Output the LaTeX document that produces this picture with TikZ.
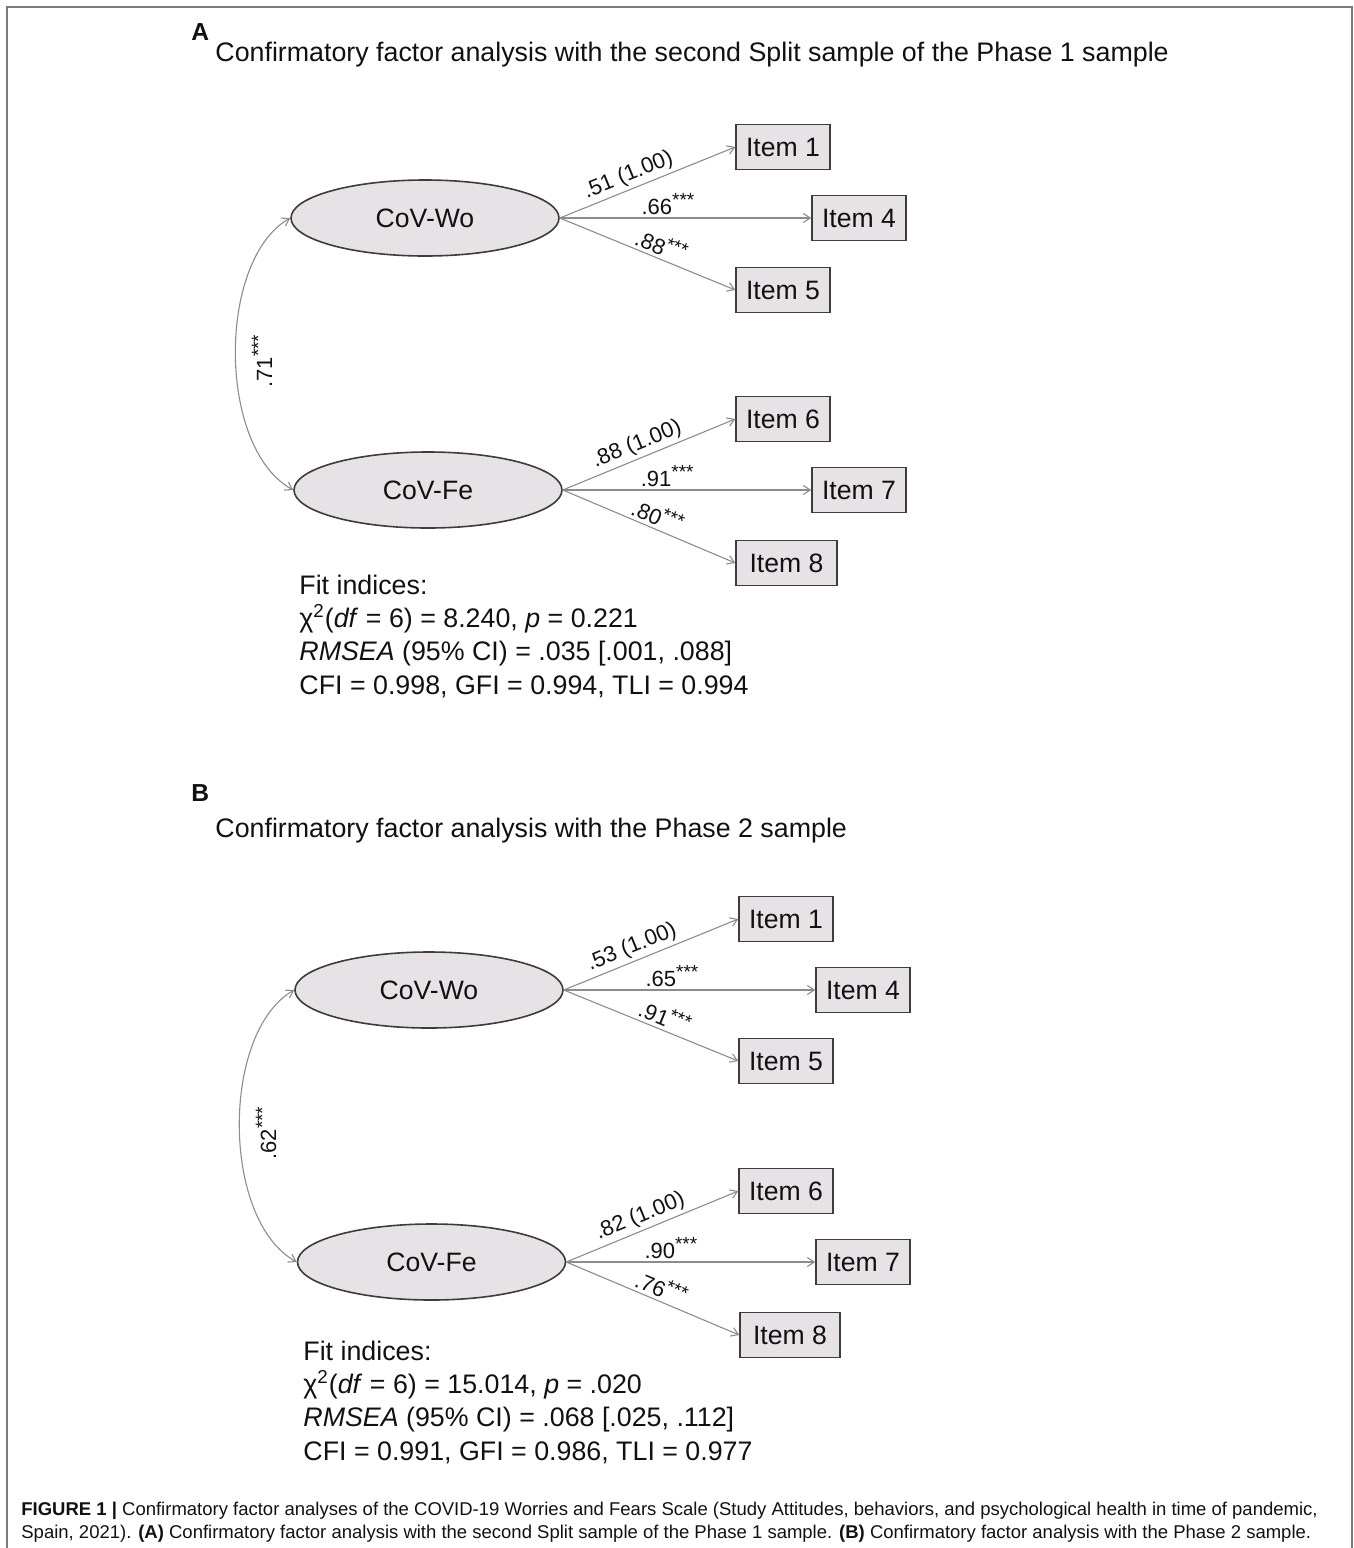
\documentclass[tikz,border=0pt]{standalone}
\usepackage{fontspec}
\setmainfont{Liberation Sans}
\usetikzlibrary{shapes.geometric,arrows.meta}
\definecolor{fillg}{HTML}{E6E2E5}
\definecolor{lineg}{HTML}{8C8C8C}
\definecolor{bord}{HTML}{3C3C3C}
\definecolor{frameg}{HTML}{7A7A7A}
\definecolor{txt}{HTML}{111111}
\newcommand\mystars{\raisebox{0.33em}{\fontsize{9.5}{10}\selectfont ***}}
\begin{document}
\begin{tikzpicture}[x=0.5pt,y=-0.5pt,
  every node/.style={text=txt},
  latent/.style={ellipse,draw=bord,line width=0.8pt,fill=fillg,minimum width=134pt,minimum height=38pt,inner sep=0pt,font=\fontsize{13.3}{15}\selectfont},
  obs/.style={rectangle,draw=bord,line width=0.7pt,fill=fillg,minimum width=47pt,minimum height=22.5pt,inner sep=0pt,font=\fontsize{13.3}{15}\selectfont},
  load/.style={draw=lineg,line width=0.55pt,-{Straight Barb[length=3.5pt,width=4.5pt]}},
  corr/.style={draw=lineg,line width=0.55pt,{Straight Barb[length=3.5pt,width=4.5pt]}-{Straight Barb[length=3.5pt,width=4.5pt]}},
  lbl/.style={font=\fontsize{11}{13}\selectfont,sloped,above,inner sep=1.5pt},
  fitbox/.style={anchor=base west,align=left,font=\fontsize{13.4}{16.6}\selectfont,inner sep=0pt},
  ttl/.style={anchor=base west,inner sep=0pt,font=\fontsize{13.4}{16}\selectfont},
  letter/.style={anchor=base west,inner sep=0pt,font=\fontsize{12.3}{14}\selectfont\bfseries},
]
\useasboundingbox (0,0) rectangle (1354,1548);
\draw[frameg,line width=1pt] (7,1548) -- (7,7) -- (1352,7) -- (1352,1548);

% ---------- Panel A ----------
\node[letter] (la) at (191,40) {A};
\node[ttl] (ta) at (215,61) {Confirmatory factor analysis with the second Split sample of the Phase 1 sample};

\node[latent] (woA) at (425,218) {CoV-Wo};
\node[latent] (feA) at (428,490) {CoV-Fe};
\node[obs] (i1A) at (783,147) {Item 1};
\node[obs] (i4A) at (859,218) {Item 4};
\node[obs] (i5A) at (783,290) {Item 5};
\node[obs] (i6A) at (783,419) {Item 6};
\node[obs] (i7A) at (859,490) {Item 7};
\node[obs,minimum width=50.5pt] (i8A) at (786.5,563) {Item 8};

\draw[load] (woA.east) -- node[lbl,pos=0.42] (a1) {.51 (1.00)} (i1A.west);
\draw[load] (woA.east) -- node[lbl,pos=0.43] (a4) {.66\mystars} (i4A.west);
\draw[load] (woA.east) -- node[lbl,pos=0.55] (a5) {.88\mystars} (i5A.west);
\draw[load] (feA.east) -- node[lbl,pos=0.46] (a6) {.88 (1.00)} (i6A.west);
\draw[load] (feA.east) -- node[lbl,pos=0.42] (a7) {.91\mystars} (i7A.west);
\draw[load] (feA.east) -- node[lbl,pos=0.52] (a8) {.80\mystars} (i8A.west);

\draw[corr] (woA.west) .. controls (217,260) and (217,448) .. (feA.west);
\node[rotate=90,font=\fontsize{11}{13}\selectfont,inner sep=0pt] (ca) at (262,361) {.71\mystars};

\node[fitbox] (fa) at (299,694) {Fit indices:\\
χ\textsuperscript{2}(\textit{df} = 6) = 8.240, \textit{p} = 0.221\\
\textit{RMSEA} (95\% CI) = .035 [.001, .088]\\
CFI = 0.998, GFI = 0.994, TLI = 0.994};

% ---------- Panel B ----------
\node[letter] (lb) at (191,801) {B};
\node[ttl] (tb) at (215,837) {Confirmatory factor analysis with the Phase 2 sample};

\node[latent] (woB) at (429,990) {CoV-Wo};
\node[latent] (feB) at (431.5,1262) {CoV-Fe};
\node[obs] (i1B) at (786,919) {Item 1};
\node[obs] (i4B) at (863,990) {Item 4};
\node[obs] (i5B) at (786,1061) {Item 5};
\node[obs] (i6B) at (786,1191) {Item 6};
\node[obs] (i7B) at (863,1262) {Item 7};
\node[obs,minimum width=50pt] (i8B) at (790,1335) {Item 8};

\draw[load] (woB.east) -- node[lbl,pos=0.42] (b1) {.53 (1.00)} (i1B.west);
\draw[load] (woB.east) -- node[lbl,pos=0.43] (b4) {.65\mystars} (i4B.west);
\draw[load] (woB.east) -- node[lbl,pos=0.55] (b5) {.91\mystars} (i5B.west);
\draw[load] (feB.east) -- node[lbl,pos=0.46] (b6) {.82 (1.00)} (i6B.west);
\draw[load] (feB.east) -- node[lbl,pos=0.42] (b7) {.90\mystars} (i7B.west);
\draw[load] (feB.east) -- node[lbl,pos=0.52] (b8) {.76\mystars} (i8B.west);

\draw[corr] (woB.west) .. controls (221,1032) and (221,1220) .. (feB.west);
\node[rotate=90,font=\fontsize{11}{13}\selectfont,inner sep=0pt] (cb) at (266,1133) {.62\mystars};

\node[fitbox] (fb) at (303,1460) {Fit indices:\\
χ\textsuperscript{2}(\textit{df} = 6) = 15.014, \textit{p} = .020\\
\textit{RMSEA} (95\% CI) = .068 [.025, .112]\\
CFI = 0.991, GFI = 0.986, TLI = 0.977};

% ---------- Caption ----------
\node[anchor=base west,align=left,inner sep=0pt,font=\fontsize{9.25}{11.5}\selectfont] (cap) at (21,1538) {\textbf{FIGURE 1 |} Confirmatory factor analyses of the COVID-19 Worries and Fears Scale (Study Attitudes, behaviors, and psychological health in time of pandemic,\\
Spain, 2021). \textbf{(A)} Confirmatory factor analysis with the second Split sample of the Phase 1 sample. \textbf{(B)} Confirmatory factor analysis with the Phase 2 sample.};
\end{tikzpicture}
\end{document}
